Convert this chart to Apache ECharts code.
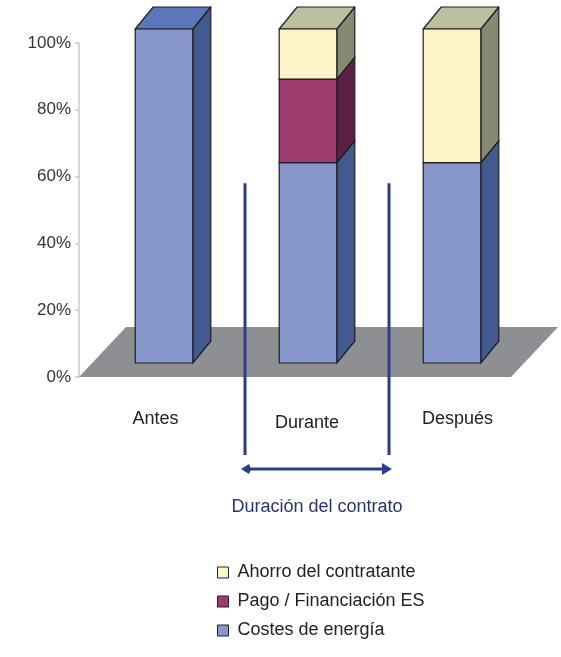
<!DOCTYPE html>
<html>
<head>
<meta charset="utf-8">
<script src="https://cdn.jsdelivr.net/npm/echarts@6/dist/echarts.min.js"></script>
<style>
  html, body { margin: 0; padding: 0; background: #fff; }
  #main { width: 561px; height: 657px; }
</style>
</head>
<body>
<div id="main"></div>
<script>
// datos
const categories = ['Antes', 'Durante', 'Después'];
const costesEnergia = [100, 60, 60];
const pagoFinanciacion = [0, 25, 0];
const ahorroContratante = [0, 15, 40];
const yTicks = [0, 20, 40, 60, 80, 100];
const contratoDesde = 58; // altura (%) donde empiezan las lineas del contrato

const FONT = "'Liberation Sans', Arial, sans-serif";

// efecto 3D (px)
const FRONT_DX = 13, FRONT_DY = -14;   // cara frontal respecto al eje
const DEPTH_DX = 18, DEPTH_DY = -22;   // profundidad de la barra
const FLOOR_DX = 47, FLOOR_DY = -50;   // profundidad del suelo
const BAR_RATIO = 0.4;

const colores = {
  costes: { front: '#8797cb', side: '#425a8e', top: '#5c77b9' },
  pago:   { front: '#9e3b6f', side: '#5a2145', top: '#7a2d58' },
  ahorro: { front: '#fcf4c8', side: '#868872', top: '#bbc09f' }
};

function stackData(values, bases) {
  return values.map((v, i) => [i, v, bases[i]]);
}
const base0 = categories.map(() => 0);
const base1 = costesEnergia.slice();
const base2 = costesEnergia.map((v, i) => v + pagoFinanciacion[i]);

function makeRender(col) {
  return function (params, api) {
    const idx = api.value(0), val = api.value(1), base = api.value(2);
    if (!val) return null;
    const band = api.size([1, 0])[0];
    const b = api.coord([idx, base]);
    const t = api.coord([idx, base + val]);
    const hw = band * BAR_RATIO / 2;
    const x0 = b[0] + FRONT_DX - hw, x1 = b[0] + FRONT_DX + hw;
    const yb = b[1] + FRONT_DY, yt = t[1] + FRONT_DY;
    const stroke = { stroke: '#1e1e1e', lineWidth: 1.2, lineJoin: 'round' };
    return {
      type: 'group',
      children: [
        { type: 'polygon', shape: { points: [[x1, yb], [x1 + DEPTH_DX, yb + DEPTH_DY], [x1 + DEPTH_DX, yt + DEPTH_DY], [x1, yt]] },
          style: Object.assign({ fill: col.side }, stroke) },
        { type: 'polygon', shape: { points: [[x0, yt], [x1, yt], [x1 + DEPTH_DX, yt + DEPTH_DY], [x0 + DEPTH_DX, yt + DEPTH_DY]] },
          style: Object.assign({ fill: col.top }, stroke) },
        { type: 'rect', shape: { x: x0, y: yt, width: x1 - x0, height: yb - yt },
          style: Object.assign({ fill: col.front }, stroke) }
      ]
    };
  };
}

function renderFloor(params, api) {
  const cs = params.coordSys;
  const y = api.coord([0, 0])[1];
  const xl = cs.x, xr = cs.x + cs.width;
  return {
    type: 'polygon',
    shape: { points: [[xl, y], [xr, y], [xr + FLOOR_DX, y + FLOOR_DY], [xl + FLOOR_DX, y + FLOOR_DY]] },
    style: { fill: '#8e8f93' }
  };
}

function renderContrato(params, api) {
  const band = api.size([1, 0])[0];
  const c = api.coord([1, contratoDesde]);
  const y0 = api.coord([1, 0])[1];
  const xl = c[0] - band / 2 + 22, xr = c[0] + band / 2 + 22;
  const yBot = y0 + 78, yArr = y0 + 92;
  const col = '#2a3c8a';
  const ln = { stroke: col, lineWidth: 3 };
  return {
    type: 'group',
    children: [
      { type: 'line', shape: { x1: xl, y1: c[1], x2: xl, y2: yBot }, style: ln },
      { type: 'line', shape: { x1: xr, y1: c[1], x2: xr, y2: yBot }, style: ln },
      { type: 'line', shape: { x1: xl + 2, y1: yArr, x2: xr - 4, y2: yArr }, style: ln },
      { type: 'polygon', shape: { points: [[xl - 4, yArr], [xl + 4, yArr - 5], [xl + 6, yArr], [xl + 4, yArr + 5]] }, style: { fill: col } },
      { type: 'polygon', shape: { points: [[xr + 3, yArr], [xr - 7, yArr - 6], [xr - 7, yArr + 6]] }, style: { fill: col } },
      { type: 'text', x: (xl + xr) / 2, y: yArr + 38,
        style: { text: 'Duración del contrato', fill: '#2a3470', font: '18px ' + FONT, align: 'center', verticalAlign: 'middle' } }
    ]
  };
}

const chart = echarts.init(document.getElementById('main'));
chart.setOption({
  animation: false,
  backgroundColor: '#fff',
  grid: { left: 79, right: 50, top: 43, bottom: 280 },
  legend: {
    orient: 'vertical',
    left: 212, top: 558,
    data: ['Ahorro del contratante', 'Pago / Financiación ES', 'Costes de energía'],
    icon: 'rect',
    itemWidth: 11, itemHeight: 11, itemGap: 10,
    itemStyle: { borderColor: '#222', borderWidth: 1 },
    textStyle: { fontFamily: FONT, fontSize: 18, color: '#222', padding: [0, 0, 0, 4], lineHeight: 19 },
    selectedMode: false
  },
  xAxis: {
    type: 'category',
    data: categories,
    axisLine: { show: false },
    axisTick: { show: false },
    axisLabel: {
      interval: 0,
      margin: 33,
      fontFamily: FONT, fontSize: 18, color: '#222',
      formatter: (v, i) => '{l' + i + '|' + v + '}',
      rich: {
        l0: { fontFamily: FONT, fontSize: 18, color: '#222', padding: [0, 0, 0, 9] },
        l1: { fontFamily: FONT, fontSize: 18, color: '#222', padding: [4, 0, 0, 24] },
        l2: { fontFamily: FONT, fontSize: 18, color: '#222', padding: [0, 0, 0, 37] }
      }
    }
  },
  yAxis: {
    type: 'value',
    min: yTicks[0], max: yTicks[yTicks.length - 1], interval: 20,
    axisLine: { show: true, lineStyle: { color: '#c8c8c8', width: 1.5 } },
    axisTick: { show: true, length: 4, lineStyle: { color: '#c8c8c8', width: 1.5 } },
    splitLine: { show: false },
    axisLabel: { margin: 8, fontFamily: FONT, fontSize: 17, color: '#333', formatter: '{value}%' }
  },
  series: [
    { type: 'custom', name: 'suelo', z: 1, silent: true, renderItem: renderFloor, data: [[0]] },
    { type: 'custom', name: 'Costes de energía', z: 3, renderItem: makeRender(colores.costes),
      itemStyle: { color: colores.costes.front }, data: stackData(costesEnergia, base0) },
    { type: 'custom', name: 'Pago / Financiación ES', z: 3, renderItem: makeRender(colores.pago),
      itemStyle: { color: colores.pago.front }, data: stackData(pagoFinanciacion, base1) },
    { type: 'custom', name: 'Ahorro del contratante', z: 3, renderItem: makeRender(colores.ahorro),
      itemStyle: { color: colores.ahorro.front }, data: stackData(ahorroContratante, base2) },
    { type: 'custom', name: 'contrato', z: 2, silent: true, renderItem: renderContrato, data: [[1]] }
  ]
});
</script>
</body>
</html>
